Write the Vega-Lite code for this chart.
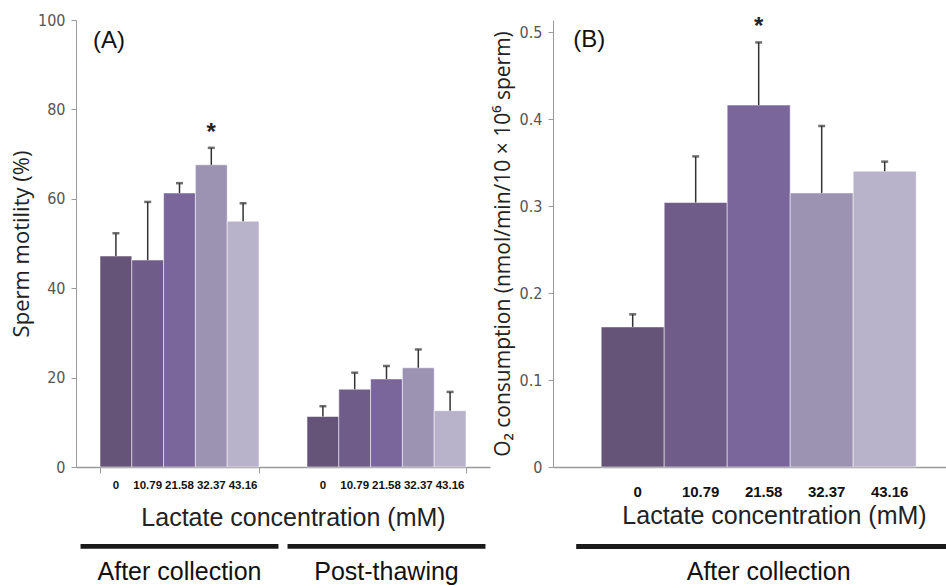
{
  "$schema": "https://vega.github.io/schema/vega-lite/v6.json",
  "padding": {"left": 10, "top": 12, "right": 0, "bottom": 0},
  "background": "white",
  "spacing": 2,
  "config": {
    "view": {"stroke": null},
    "axis": {
      "grid": false,
      "domainColor": "#9a9a9a",
      "tickColor": "#9a9a9a",
      "labelColor": "#555555",
      "titleColor": "#222222",
      "labelFont": "Liberation Sans Narrow, DejaVu Sans Condensed, sans-serif",
      "titleFontWeight": "normal"
    },
    "text": {"font": "Liberation Sans"}
  },
  "datasets": {
    "motility": [
      {"stage": "After collection", "conc": "0", "mean": 47.2, "upper": 52.3, "sig": ""},
      {"stage": "After collection", "conc": "10.79", "mean": 46.3, "upper": 59.3, "sig": ""},
      {"stage": "After collection", "conc": "21.58", "mean": 61.3, "upper": 63.5, "sig": ""},
      {"stage": "After collection", "conc": "32.37", "mean": 67.6, "upper": 71.4, "sig": "*"},
      {"stage": "After collection", "conc": "43.16", "mean": 55.0, "upper": 59.0, "sig": ""},
      {"stage": "Post-thawing", "conc": "0", "mean": 11.3, "upper": 13.6, "sig": ""},
      {"stage": "Post-thawing", "conc": "10.79", "mean": 17.4, "upper": 21.1, "sig": ""},
      {"stage": "Post-thawing", "conc": "21.58", "mean": 19.7, "upper": 22.6, "sig": ""},
      {"stage": "Post-thawing", "conc": "32.37", "mean": 22.2, "upper": 26.3, "sig": ""},
      {"stage": "Post-thawing", "conc": "43.16", "mean": 12.6, "upper": 16.8, "sig": ""}
    ],
    "oxygen": [
      {"stage": "After collection", "conc": "0", "mean": 0.161, "upper": 0.1755, "sig": ""},
      {"stage": "After collection", "conc": "10.79", "mean": 0.304, "upper": 0.357, "sig": ""},
      {"stage": "After collection", "conc": "21.58", "mean": 0.416, "upper": 0.488, "sig": "*"},
      {"stage": "After collection", "conc": "32.37", "mean": 0.315, "upper": 0.392, "sig": ""},
      {"stage": "After collection", "conc": "43.16", "mean": 0.340, "upper": 0.351, "sig": ""}
    ]
  },
  "hconcat": [
    {
      "width": 414,
      "height": 447,
      "data": {"name": "motility"},
      "encoding": {
        "x": {
          "field": "stage",
          "type": "nominal",
          "sort": ["After collection", "Post-thawing"],
          "scale": {"paddingInner": 0.232, "paddingOuter": 0.116},
          "axis": {
            "labels": false,
            "ticks": true,
            "tickBand": "extent",
            "tickSize": 6,
            "domainWidth": 1.5,
            "title": "Lactate concentration (mM)",
            "titleFont": "Liberation Sans",
            "titleFontSize": 25,
            "titlePadding": 32,
            "titleX": 217
          }
        }
      },
      "layer": [
        {
          "mark": {"type": "bar", "stroke": "#ffffff", "strokeWidth": 1, "strokeOpacity": 0.5},
          "encoding": {
            "xOffset": {"field": "conc", "type": "nominal", "scale": {"domain": ["0", "10.79", "21.58", "32.37", "43.16"], "paddingInner": 0, "paddingOuter": 0}},
            "y": {
              "field": "mean",
              "type": "quantitative",
              "scale": {"domain": [0, 100], "nice": false},
              "axis": {
                "values": [0, 20, 40, 60, 80, 100],
                "title": "Sperm motility (%)",
                "titleFont": "Open Sans",
                "titleFontSize": 22,
                "titlePadding": 4,
                "labelFontSize": 16,
                "tickSize": 5,
                "labelPadding": 6,
                "domainWidth": 1
              }
            },
            "color": {
              "field": "conc",
              "type": "nominal",
              "scale": {"domain": ["0", "10.79", "21.58", "32.37", "43.16"], "range": ["#665478", "#6f5c89", "#7a669b", "#9c92b2", "#b8b3cb"]},
              "legend": null
            }
          }
        },
        {
          "mark": {"type": "rule", "color": "#333333", "strokeWidth": 1.5},
          "encoding": {
            "xOffset": {"field": "conc", "type": "nominal"},
            "y": {"field": "mean", "type": "quantitative"},
            "y2": {"field": "upper"}
          }
        },
        {
          "mark": {"type": "tick", "color": "#333333", "thickness": 2.5, "size": 7},
          "encoding": {
            "xOffset": {"field": "conc", "type": "nominal"},
            "y": {"field": "upper", "type": "quantitative"}
          }
        },
        {
          "transform": [{"filter": "datum.sig == '*'"}],
          "mark": {"type": "text", "fontSize": 24, "fontWeight": "bold", "baseline": "alphabetic", "dy": -8, "color": "#222222"},
          "encoding": {
            "xOffset": {"field": "conc", "type": "nominal"},
            "y": {"field": "upper", "type": "quantitative"},
            "text": {"field": "sig"}
          }
        },
        {
          "mark": {"type": "text", "fontSize": 11.5, "fontWeight": "bold", "baseline": "alphabetic", "dy": 22, "color": "#111111"},
          "encoding": {
            "xOffset": {"field": "conc", "type": "nominal"},
            "y": {"datum": 0, "type": "quantitative"},
            "text": {"field": "conc"}
          }
        },
        {
          "transform": [{"filter": "datum.conc == '0'"}],
          "mark": {"type": "bar", "color": "#1a1a1a", "width": {"band": 1.245}},
          "encoding": {
            "y": {"datum": -17.2, "type": "quantitative"},
            "y2": {"datum": -18.3}
          }
        },
        {
          "transform": [{"filter": "datum.conc == '0'"}],
          "mark": {"type": "text", "fontSize": 25, "baseline": "alphabetic", "dy": 113, "color": "#111111"},
          "encoding": {
            "y": {"datum": 0, "type": "quantitative"},
            "text": {"field": "stage"}
          }
        },
        {
          "data": {"values": [{"panel": "(A)"}]},
          "mark": {"type": "text", "fontSize": 24, "align": "left", "baseline": "middle", "dx": -7, "dy": 21, "color": "#111111"},
          "encoding": {
            "x": {"datum": "After collection", "type": "nominal", "bandPosition": 0},
            "y": {"datum": 100, "type": "quantitative"},
            "text": {"field": "panel"}
          }
        }
      ]
    },
    {
      "width": 394,
      "height": 447,
      "data": {"name": "oxygen"},
      "layer": [
        {
          "mark": {"type": "bar", "stroke": "#ffffff", "strokeWidth": 1, "strokeOpacity": 0.5},
          "encoding": {
            "x": {
              "field": "conc",
              "type": "nominal",
              "scale": {"domain": ["0", "10.79", "21.58", "32.37", "43.16"], "paddingInner": 0, "paddingOuter": 0.627, "align": 0.61},
              "axis": {
                "labelAngle": 0,
                "labelFont": "Liberation Sans",
                "labelFontWeight": "bold",
                "labelFontSize": 15,
                "labelColor": "#111111",
                "labelOffset": 5,
                "ticks": false,
                "tickSize": 0,
                "labelPadding": 17,
                "domainWidth": 1.5,
                "title": "Lactate concentration (mM)",
                "titleFont": "Liberation Sans",
                "titleFontSize": 25,
                "titlePadding": 4,
                "titleX": 221
              }
            },
            "y": {
              "field": "mean",
              "type": "quantitative",
              "scale": {"domain": [0, 0.5138], "nice": false},
              "axis": {
                "values": [0, 0.1, 0.2, 0.3, 0.4, 0.5],
                "format": "~g",
                "title": "O₂ consumption (nmol/min/10 × 10⁶ sperm)",
                "titleFont": "Open Sans",
                "titleFontSize": 21,
                "titlePadding": 6,
                "labelFontSize": 16,
                "tickSize": 5,
                "labelPadding": 6,
                "domainWidth": 1
              }
            },
            "color": {
              "field": "conc",
              "type": "nominal",
              "scale": {"domain": ["0", "10.79", "21.58", "32.37", "43.16"], "range": ["#665478", "#6f5c89", "#7a669b", "#9c92b2", "#b8b3cb"]},
              "legend": null
            }
          }
        },
        {
          "mark": {"type": "rule", "color": "#333333", "strokeWidth": 1.5},
          "encoding": {
            "x": {"field": "conc", "type": "nominal"},
            "y": {"field": "mean", "type": "quantitative"},
            "y2": {"field": "upper"}
          }
        },
        {
          "mark": {"type": "tick", "color": "#333333", "thickness": 2.5, "size": 7},
          "encoding": {
            "x": {"field": "conc", "type": "nominal"},
            "y": {"field": "upper", "type": "quantitative"}
          }
        },
        {
          "transform": [{"filter": "datum.sig == '*'"}],
          "mark": {"type": "text", "fontSize": 24, "fontWeight": "bold", "baseline": "alphabetic", "dy": -8, "color": "#222222"},
          "encoding": {
            "x": {"field": "conc", "type": "nominal"},
            "y": {"field": "upper", "type": "quantitative"},
            "text": {"field": "sig"}
          }
        },
        {
          "transform": [{"filter": "datum.conc == '0'"}],
          "mark": {"type": "rule", "color": "#1a1a1a", "strokeWidth": 5, "xOffset": -25},
          "encoding": {
            "x": {"datum": "0", "type": "nominal", "bandPosition": 0},
            "x2": {"value": "width"},
            "y": {"datum": -0.0914, "type": "quantitative"}
          }
        },
        {
          "transform": [{"filter": "datum.conc == '0'"}],
          "mark": {"type": "text", "fontSize": 25, "baseline": "alphabetic", "dy": 113, "dx": 10, "color": "#111111"},
          "encoding": {
            "x": {"datum": "21.58", "type": "nominal"},
            "y": {"datum": 0, "type": "quantitative"},
            "text": {"field": "stage"}
          }
        },
        {
          "data": {"values": [{"panel": "(B)"}]},
          "mark": {"type": "text", "fontSize": 24, "align": "left", "baseline": "middle", "dx": -28, "dy": 8, "color": "#111111"},
          "encoding": {
            "x": {"datum": "0", "type": "nominal", "bandPosition": 0},
            "y": {"datum": 0.5, "type": "quantitative"},
            "text": {"field": "panel"}
          }
        }
      ]
    }
  ]
}
